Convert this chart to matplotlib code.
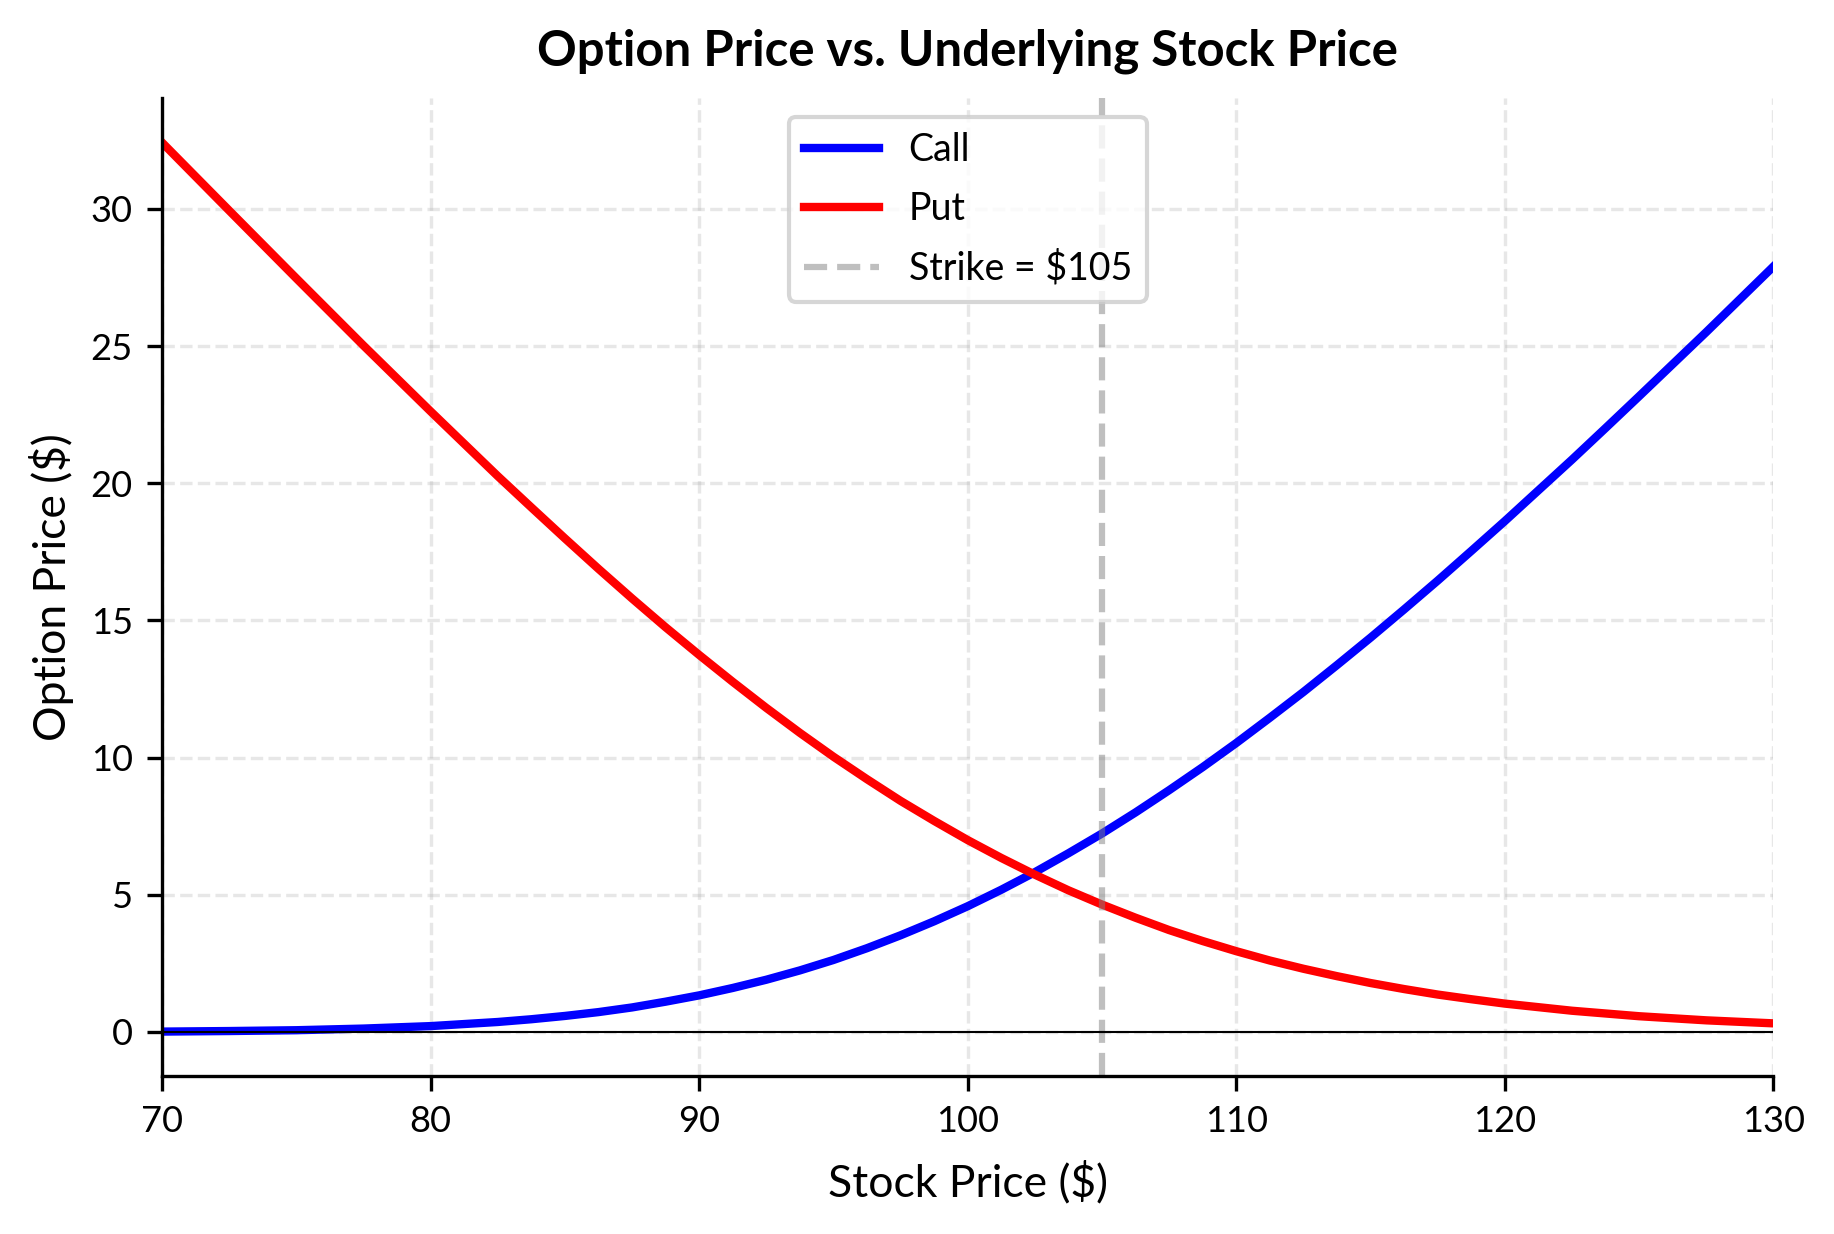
import matplotlib
matplotlib.use("Agg")
import matplotlib.pyplot as plt

plt.rcParams['font.family'] = ['Lato', 'DejaVu Sans']

stock_price = [70, 72.5, 75, 77.5, 80, 82.5, 83.75, 85, 86.25, 87.5, 88.75, 90, 91.25, 92.5,
               93.75, 95, 96.25, 97.5, 98.75, 100, 101.25, 102.5, 103.75, 105, 106.25, 107.5,
               108.75, 110, 111.25, 112.5, 113.75, 115, 116.25, 117.5, 118.75, 120, 121.25,
               122.5, 123.75, 125, 127.5, 130]
call_price = [0.01, 0.03, 0.06, 0.12, 0.21, 0.36, 0.46, 0.58, 0.72, 0.89, 1.10, 1.33, 1.60, 1.90,
              2.24, 2.62, 3.05, 3.52, 4.03, 4.58, 5.18, 5.82, 6.51, 7.23, 8.00, 8.81,
              9.65, 10.53, 11.45, 12.39, 13.37, 14.37, 15.40, 16.45, 17.53, 18.62, 19.74,
              20.86, 22.01, 23.17, 25.51, 27.90]
put_price = [32.42, 29.94, 27.47, 25.02, 22.62, 20.26, 19.12, 17.99, 16.88, 15.80, 14.75, 13.74,
             12.76, 11.81, 10.90, 10.03, 9.21, 8.42, 7.69, 6.99, 6.34, 5.73, 5.16, 4.64, 4.16,
             3.71, 3.31, 2.94, 2.60, 2.30, 2.03, 1.78, 1.56, 1.36, 1.19, 1.03, 0.90, 0.77,
             0.67, 0.57, 0.42, 0.31]
strike = 105

fig = plt.figure(figsize=(1834 / 300, 1234 / 300), dpi=300)
ax = fig.add_axes([0.0883, 0.128, 0.8787, 0.7926])

ax.plot(stock_price, call_price, color='blue', lw=2, label='Call')
ax.plot(stock_price, put_price, color='red', lw=2, label='Put')
ax.axvline(strike, color='gray', ls='--', lw=1.5, alpha=0.5, label=f'Strike = ${strike}')
ax.axhline(0, color='black', lw=0.5)

ax.set_xlim(70, 130)
ax.grid(True, linestyle='--', alpha=0.3)
ax.spines['top'].set_visible(False)
ax.spines['right'].set_visible(False)
ax.tick_params(labelsize=8.7)
ax.set_xlabel('Stock Price ($)', fontsize=10.7, labelpad=5.5)
ax.set_ylabel('Option Price ($)', fontsize=10.7)
ax.set_title('Option Price vs. Underlying Stock Price', fontsize=11.8, fontweight='bold', pad=7.7)
ax.legend(loc='upper center', fontsize=9, labelspacing=0.62)

fig.savefig('out.png', dpi=300)
